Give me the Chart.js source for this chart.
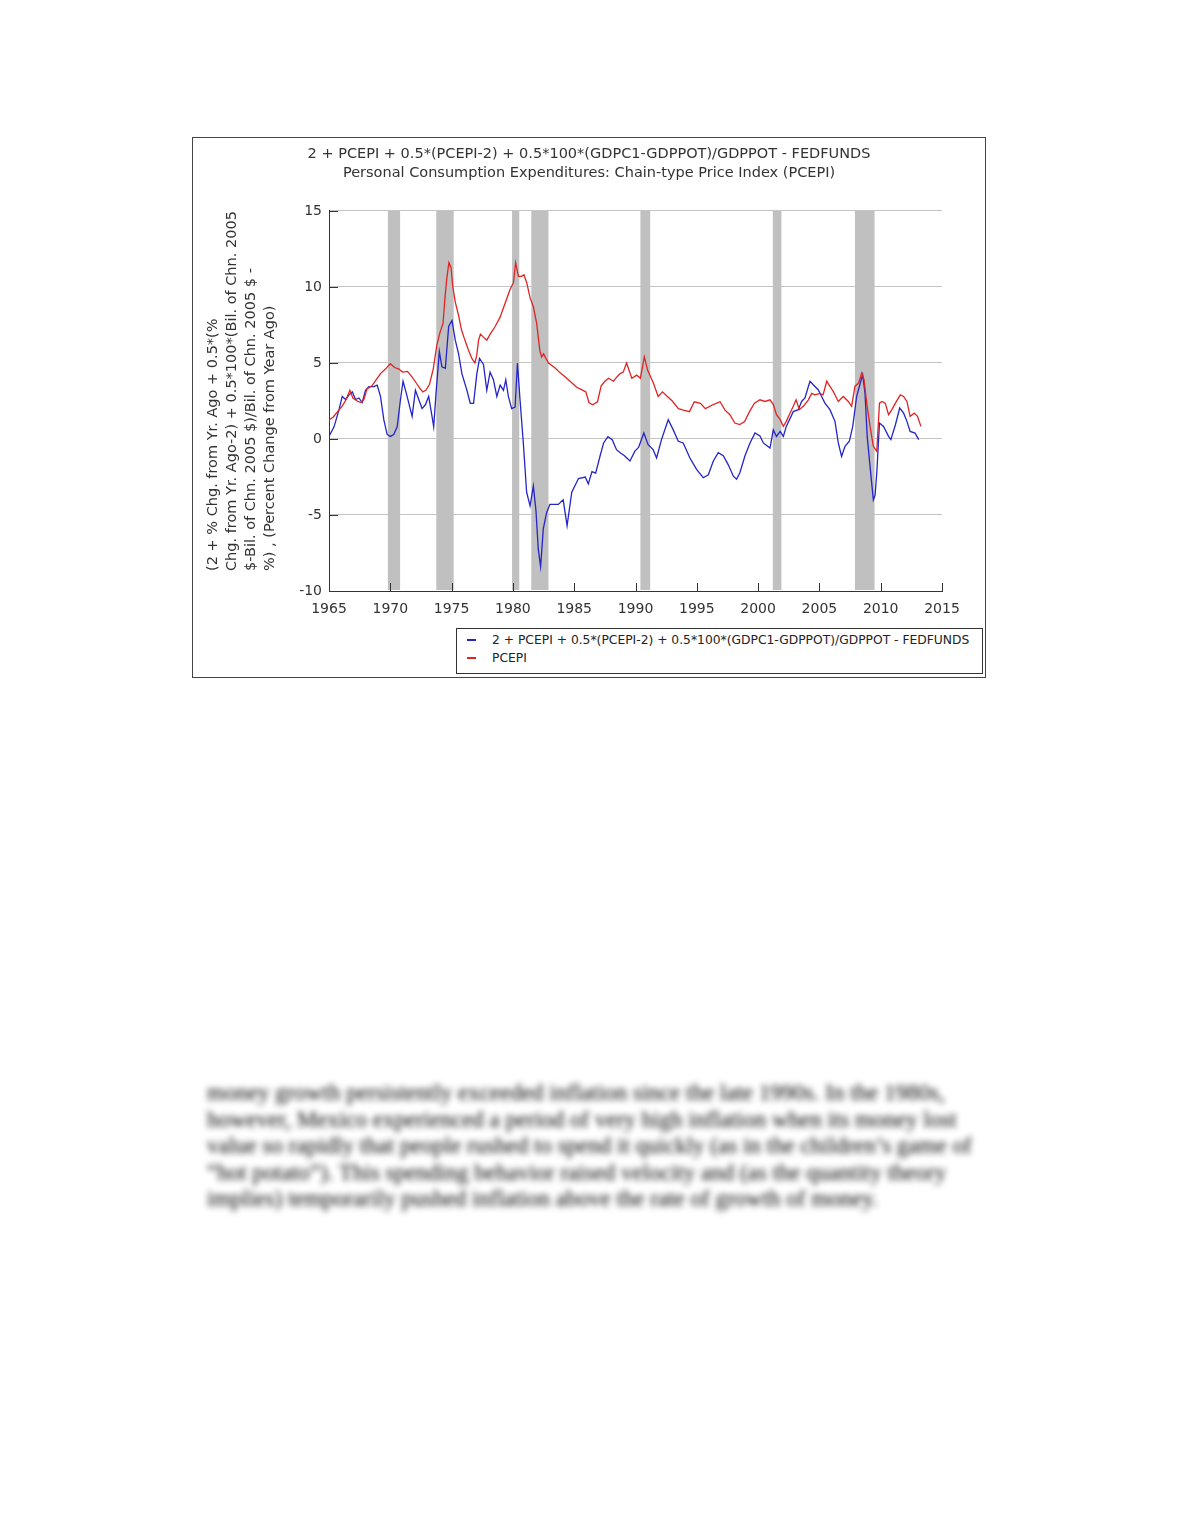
<!DOCTYPE html>
<html>
<head>
<meta charset="utf-8">
<script src="https://cdn.jsdelivr.net/npm/chart.js@4.4.1/dist/chart.umd.min.js"></script>
<style>
  html, body { margin: 0; padding: 0; background: #fff; }
  body { width: 1180px; height: 1527px; position: relative; overflow: hidden; }
  #box { position: absolute; left: 192px; top: 137px; width: 792px; height: 539px; border: 1px solid #444; background: #fff; }
  #chart { display: block; }
  #legend { position: absolute; left: 456px; top: 628px; width: 525px; height: 44px; border: 1px solid #333; background: #fff;
            font-family: "DejaVu Sans", sans-serif; font-size: 12.3px; color: #222; }
  #legend .row { position: absolute; left: 0; height: 16px; line-height: 16px; white-space: nowrap; }
  #legend .dash { position: absolute; left: 10px; top: 7px; width: 9px; height: 2px; }
  #legend .txt { position: absolute; left: 35px; top: 0; }
  #para { position: absolute; left: 207px; top: 1080px; font-family: "Liberation Serif", serif; font-size: 23px;
          line-height: 26.5px; color: #000; white-space: nowrap; filter: blur(3px); }
</style>
</head>
<body>
<div id="box"><canvas id="chart" width="792" height="539"></canvas></div>
<div id="legend">
  <div class="row" style="top:3px"><div class="dash" style="background:#2424c8"></div><div class="txt">2 + PCEPI + 0.5*(PCEPI-2) + 0.5*100*(GDPC1-GDPPOT)/GDPPOT - FEDFUNDS</div></div>
  <div class="row" style="top:21px"><div class="dash" style="background:#e02424"></div><div class="txt">PCEPI</div></div>
</div>
<div id="para">money growth persistently exceeded inflation since the late 1990s. In the 1980s,<br>however, Mexico experienced a period of very high inflation when its money lost<br>value so rapidly that people rushed to spend it quickly (as in the children’s game of<br>“hot potato”). This spending behavior raised velocity and (as the quantity theory<br>implies) temporarily pushed inflation above the rate of growth of money.</div>
<script>
// readings (decimal years)
const pceYears = [1965.0, 1965.35, 1965.8, 1966.1, 1966.4, 1966.7, 1966.95, 1967.3, 1967.6, 1967.85,
  1968.1, 1968.5, 1968.9, 1969.2, 1969.6, 1970.0, 1970.35, 1970.7, 1971.0, 1971.4,
  1971.8, 1972.1, 1972.4, 1972.65, 1972.9, 1973.2, 1973.5, 1973.8, 1974.05, 1974.3,
  1974.45, 1974.6, 1974.78, 1974.95, 1975.1, 1975.3, 1975.55, 1975.8, 1976.0, 1976.35,
  1976.65, 1976.9, 1977.05, 1977.2, 1977.35, 1977.6, 1977.87, 1978.15, 1978.55, 1978.95,
  1979.35, 1979.75, 1980.05, 1980.22, 1980.45, 1980.7, 1980.9, 1981.12, 1981.4, 1981.67,
  1981.94, 1982.2, 1982.35, 1982.5, 1982.9, 1983.4, 1983.85, 1984.25, 1984.8, 1985.2,
  1985.6, 1985.95, 1986.2, 1986.5, 1986.9, 1987.2, 1987.5, 1987.8, 1988.2, 1988.5,
  1988.75, 1989.0, 1989.27, 1989.7, 1990.1, 1990.4, 1990.72, 1991.0, 1991.45, 1991.85,
  1992.2, 1992.6, 1993.0, 1993.5, 1993.9, 1994.4, 1994.8, 1995.3, 1995.7, 1996.3,
  1996.9, 1997.3, 1997.7, 1998.1, 1998.5, 1998.9, 1999.3, 1999.7, 2000.15, 2000.56,
  2000.97, 2001.24, 2001.5, 2001.8, 2002.06, 2002.3, 2002.6, 2002.87, 2003.1, 2003.36,
  2003.69, 2004.1, 2004.37, 2004.64, 2005.05, 2005.3, 2005.6, 2005.86, 2006.13, 2006.54,
  2006.95, 2007.36, 2007.63, 2007.9, 2008.2, 2008.45, 2008.64, 2008.86, 2009.13, 2009.4,
  2009.68, 2009.9, 2010.1, 2010.37, 2010.64, 2010.91, 2011.2, 2011.6, 2011.87, 2012.14,
  2012.4, 2012.74, 2013.0, 2013.28];
const pceValues = [1.25, 1.45, 1.9, 2.2, 2.6, 3.2, 2.7, 2.5, 2.4, 2.6,
  3.3, 3.5, 3.95, 4.3, 4.6, 4.95, 4.7, 4.6, 4.4, 4.45,
  4.05, 3.7, 3.35, 3.1, 3.2, 3.6, 4.6, 6.2, 7.0, 7.6,
  9.2, 10.5, 11.6, 11.3, 10.0, 9.0, 8.2, 7.2, 6.7, 5.9,
  5.3, 5.0, 5.5, 6.5, 6.9, 6.7, 6.5, 6.9, 7.4, 8.0,
  8.9, 9.8, 10.3, 11.6, 10.7, 10.7, 10.8, 10.3, 9.3, 8.7,
  7.6, 5.8, 5.4, 5.6, 5.0, 4.7, 4.35, 4.1, 3.7, 3.4,
  3.25, 3.1, 2.4, 2.25, 2.45, 3.5, 3.8, 4.0, 3.8, 4.1,
  4.3, 4.4, 5.0, 4.0, 4.2, 4.0, 5.4, 4.5, 3.7, 2.8,
  3.1, 2.8, 2.5, 2.0, 1.9, 1.8, 2.45, 2.35, 2.0, 2.25,
  2.45, 1.9, 1.6, 1.05, 0.95, 1.15, 1.8, 2.35, 2.58, 2.47,
  2.58, 2.26, 1.6, 1.27, 0.83, 1.16, 1.7, 2.15, 2.58, 1.93,
  2.15, 2.58, 3.0, 2.9, 3.0, 2.9, 3.8, 3.46, 3.13, 2.47,
  2.8, 2.47, 2.15, 3.46, 3.68, 4.34, 3.9, 2.36, 0.83, -0.48,
  -0.81, 2.36, 2.47, 2.36, 1.6, 1.93, 2.36, 2.9, 2.8, 2.47,
  1.49, 1.7, 1.49, 0.83];

const ruleYears = [1965.0, 1965.41, 1965.81, 1966.08, 1966.36, 1966.63, 1966.9, 1967.17, 1967.44, 1967.71,
  1967.98, 1968.25, 1968.66, 1968.93, 1969.2, 1969.47, 1969.74, 1970.01, 1970.28, 1970.56,
  1970.83, 1971.04, 1971.31, 1971.59, 1971.78, 1972.05, 1972.32, 1972.59, 1972.86, 1973.13,
  1973.4, 1973.54, 1973.73, 1974.0, 1974.21, 1974.49, 1974.76, 1975.03, 1975.3, 1975.57,
  1975.84, 1976.25, 1976.52, 1976.79, 1977.06, 1977.28, 1977.6, 1977.87, 1978.14, 1978.41,
  1978.69, 1978.96, 1979.23, 1979.42, 1979.63, 1979.9, 1980.18, 1980.37, 1980.58, 1980.85,
  1981.12, 1981.4, 1981.67, 1981.88, 1982.07, 1982.26, 1982.48, 1982.75, 1983.02, 1983.3,
  1983.7, 1984.1, 1984.42, 1984.8, 1985.35, 1985.9, 1986.15, 1986.45, 1986.75, 1987.1,
  1987.4, 1987.75, 1988.1, 1988.45, 1988.75, 1989.1, 1989.55, 1989.95, 1990.25, 1990.68,
  1991.03, 1991.44, 1991.72, 1992.12, 1992.67, 1993.08, 1993.49, 1993.89, 1994.44, 1994.98,
  1995.53, 1995.94, 1996.35, 1996.75, 1997.16, 1997.57, 1997.98, 1998.25, 1998.52, 1998.93,
  1999.34, 1999.75, 2000.15, 2000.43, 2000.97, 2001.24, 2001.5, 2001.8, 2002.06, 2002.3,
  2002.87, 2003.28, 2003.55, 2003.82, 2004.23, 2004.5, 2004.9, 2005.18, 2005.45, 2005.86,
  2006.27, 2006.54, 2006.81, 2007.09, 2007.44, 2007.72, 2008.04, 2008.3, 2008.53, 2008.72,
  2008.9, 2009.13, 2009.4, 2009.54, 2009.68, 2009.9, 2010.23, 2010.64, 2010.83, 2011.2,
  2011.55, 2011.87, 2012.14, 2012.4, 2012.8, 2013.1];
const ruleValues = [0.17, 0.8, 1.9, 2.8, 2.6, 2.9, 3.1, 2.6, 2.7, 2.4,
  3.2, 3.45, 3.45, 3.55, 2.8, 1.27, 0.3, 0.17, 0.3, 0.8,
  2.6, 3.8, 3.0, 2.1, 1.5, 3.2, 2.6, 2.0, 2.25, 2.8,
  1.5, 0.8, 3.0, 5.75, 4.75, 4.65, 7.4, 7.8, 6.5, 5.6,
  4.3, 3.2, 2.35, 2.35, 4.3, 5.3, 4.9, 3.2, 4.4, 3.9,
  2.8, 3.55, 3.2, 3.9, 2.8, 2.0, 2.1, 5.0, 2.6, -0.26,
  -3.5, -4.4, -3.1, -4.7, -7.25, -8.4, -5.9, -4.85, -4.3, -4.3,
  -4.3, -4.0, -5.7, -3.5, -2.6, -2.5, -2.95, -2.15, -2.25, -1.15,
  -0.26, 0.15, -0.05, -0.7, -0.9, -1.1, -1.45, -0.8, -0.55, 0.4,
  -0.37, -0.7, -1.25, -0.04, 1.27, 0.6, -0.15, -0.26, -1.25, -2.0,
  -2.55, -2.35, -1.45, -0.9, -1.1, -1.7, -2.45, -2.65, -2.2, -1.1,
  -0.26, 0.4, 0.2, -0.26, -0.6, 0.6, 0.17, 0.5, 0.17, 0.83,
  1.8, 1.93, 2.47, 2.7, 3.8, 3.57, 3.24, 2.8, 2.36, 1.93,
  1.16, -0.26, -1.14, -0.48, -0.15, 0.83, 2.8, 3.57, 4.23, 3.0,
  0.17, -1.8, -4.0, -3.7, -2.24, 1.05, 0.83, 0.17, -0.04, 0.94,
  2.04, 1.7, 1.16, 0.5, 0.39, -0.04];

const recessionStarts = [1969.8, 1973.75, 1979.93, 1981.5, 1990.4, 2001.2, 2007.9];
const recessionEnds   = [1970.8, 1975.17, 1980.52, 1982.9, 1991.2, 2001.9, 2009.5];

const xTicks = [1965, 1970, 1975, 1980, 1985, 1990, 1995, 2000, 2005, 2010, 2015];
const yTicks = [-10, -5, 0, 5, 10, 15];

const chartTitle = [
  "2 + PCEPI + 0.5*(PCEPI-2) + 0.5*100*(GDPC1-GDPPOT)/GDPPOT - FEDFUNDS",
  "Personal Consumption Expenditures: Chain-type Price Index (PCEPI)"
];
const yTitle = [
  "(2 + % Chg. from Yr. Ago + 0.5*(%",
  "Chg. from Yr. Ago-2) + 0.5*100*(Bil. of Chn. 2005",
  "$-Bil. of Chn. 2005 $)/Bil. of Chn. 2005 $ -",
  "%) , (Percent Change from Year Ago)"
];

Chart.defaults.font.family = "'DejaVu Sans', sans-serif";
Chart.defaults.color = "#333";

const toPoints = (xs, ys) => xs.map((x, i) => ({ x: x, y: ys[i] }));

// grey recession shading behind the lines
const recessionPlugin = {
  id: "recessions",
  beforeDatasetsDraw(chart) {
    const { ctx, chartArea, scales } = chart;
    ctx.save();
    ctx.fillStyle = "#c0c0c0";
    recessionStarts.forEach((s, i) => {
      const x1 = scales.x.getPixelForValue(s);
      const x2 = scales.x.getPixelForValue(recessionEnds[i]);
      ctx.fillRect(x1, chartArea.top, x2 - x1, chartArea.bottom - chartArea.top - 1);
    });
    ctx.restore();
  }
};

// small inward tick marks + rotated multi-line y title
const axisExtras = {
  id: "axisExtras",
  afterDraw(chart) {
    const { ctx, chartArea, scales } = chart;
    ctx.save();
    ctx.strokeStyle = "#333";
    ctx.lineWidth = 1;
    ctx.beginPath();
    yTicks.forEach(v => {
      const y = Math.round(scales.y.getPixelForValue(v)) + 0.5;
      ctx.moveTo(chartArea.left, y);
      ctx.lineTo(chartArea.left + 9, y);
    });
    xTicks.forEach(v => {
      const x = Math.round(scales.x.getPixelForValue(v)) + 0.5;
      ctx.moveTo(x, chartArea.bottom);
      ctx.lineTo(x, chartArea.bottom - 8);
    });
    ctx.stroke();

    ctx.translate(20, 433);
    ctx.rotate(-Math.PI / 2);
    ctx.fillStyle = "#333";
    ctx.font = "14.5px 'DejaVu Sans', sans-serif";
    ctx.textAlign = "left";
    ctx.textBaseline = "middle";
    yTitle.forEach((line, i) => ctx.fillText(line, 0, i * 19));
    ctx.restore();
  }
};

new Chart(document.getElementById("chart"), {
  type: "line",
  data: {
    datasets: [
      {
        label: "PCEPI",
        data: toPoints(pceYears, pceValues),
        borderColor: "#e02424",
        borderWidth: 1.3,
        pointRadius: 0,
        tension: 0
      },
      {
        label: "2 + PCEPI + 0.5*(PCEPI-2) + 0.5*100*(GDPC1-GDPPOT)/GDPPOT - FEDFUNDS",
        data: toPoints(ruleYears, ruleValues),
        borderColor: "#2424c8",
        borderWidth: 1.3,
        pointRadius: 0,
        tension: 0
      }
    ]
  },
  options: {
    responsive: false,
    animation: false,
    layout: { padding: 0 },
    plugins: {
      legend: { display: false },
      tooltip: { enabled: false },
      title: {
        display: true,
        text: chartTitle,
        color: "#333",
        font: { size: 14.5, weight: "normal", lineHeight: 1.31 },
        padding: { top: 6.5, bottom: 28.5 }
      }
    },
    scales: {
      x: {
        type: "linear",
        min: 1965,
        max: 2015,
        afterFit(scale) { scale.height = 86; },
        afterBuildTicks(scale) { scale.ticks = xTicks.map(v => ({ value: v })); },
        ticks: { callback: v => String(v), font: { size: 14 }, color: "#333", padding: 2, maxRotation: 0 },
        grid: { display: false },
        border: { display: true, color: "#333", width: 1 }
      },
      y: {
        min: -10,
        max: 15,
        afterFit(scale) { scale.width = 136; },
        afterBuildTicks(scale) { scale.ticks = yTicks.map(v => ({ value: v })); },
        ticks: { font: { size: 14 }, color: "#333", padding: 7 },
        grid: { color: "#c4c4c4", lineWidth: 1, drawTicks: false },
        border: { display: true, color: "#333", width: 1 }
      },
      // empty right-hand axis that only reserves the blank margin right of the plot
      spacer: {
        position: "right",
        afterFit(scale) { scale.width = 43; },
        ticks: { display: false },
        grid: { display: false, drawTicks: false },
        border: { display: false }
      }
    }
  },
  plugins: [recessionPlugin, axisExtras]
});
</script>
</body>
</html>
